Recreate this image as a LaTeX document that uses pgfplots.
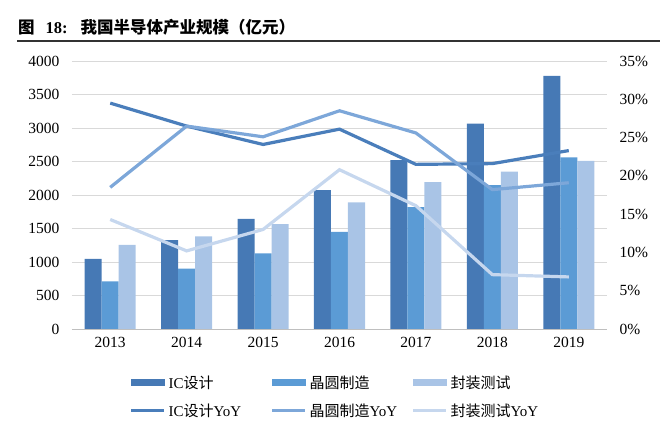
\documentclass[border=0pt]{standalone}
\usepackage{pgfplots}
\pgfplotsset{compat=1.18}
\usepackage{fontspec}
\setmainfont{Liberation Serif}
\newfontfamily\cjk{Noto Sans CJK SC}
\definecolor{icbar}{HTML}{4679B5}
\definecolor{wfbar}{HTML}{5B9BD5}
\definecolor{pkbar}{HTML}{A9C4E6}
\definecolor{icline}{HTML}{4A7EBB}
\definecolor{wfline}{HTML}{7DA7D9}
\definecolor{pkline}{HTML}{C6D7EE}
\definecolor{gridc}{HTML}{D9D9D9}
\definecolor{axc}{HTML}{BFBFBF}
\begin{document}
\begin{tikzpicture}
\path[use as bounding box] (0,0) rectangle (665pt,428pt);
\node[anchor=west,inner sep=0pt] at (18pt,401pt) {\fontsize{16.5}{19}\selectfont\bfseries\cjk 图\hspace{11pt}{\rmfamily 18:}\hspace{13pt}我国半导体产业规模（亿元）};
\draw[line width=1.2pt,black!80] (17pt,387pt) -- (660pt,387pt);
\pgfplotsset{every axis/.append style={
  at={(72pt,99pt)}, anchor=south west, scale only axis,
  width=535pt, height=268pt, xmin=-0.5, xmax=6.5,
  /pgf/number format/assume math mode=true,
  tick label style={font=\fontsize{15.5}{18}\selectfont},
  major tick length=0pt}}
\begin{axis}[
  ymin=0, ymax=4000, ytick={0,500,...,4000},
  axis y line*=left, axis x line*=bottom,
  y axis line style={draw=none},
  x axis line style={axc, line width=0.8pt},
  ymajorgrids, grid style={gridc, line width=0.8pt},
  xtick={0,...,6}, xticklabels={2013,2014,2015,2016,2017,2018,2019},
  xticklabel style={yshift=-5pt},
  yticklabel style={xshift=-9pt},
  /pgf/number format/1000 sep={},
  ybar, bar width=17pt,
]
\addplot[fill=icbar, draw=none, bar shift=-17pt] coordinates {(0,1047.4) (1,1325) (2,1644.3) (3,2073.5) (4,2519.3) (5,3063.5) (6,3778.4)};
\addplot[fill=wfbar, draw=none, bar shift=0pt] coordinates {(0,712.1) (1,900.8) (2,1126.9) (3,1448.1) (4,1818.2) (5,2149.1) (6,2560.1)};
\addplot[fill=pkbar, draw=none, bar shift=17pt] coordinates {(0,1255.9) (1,1384) (2,1564.3) (3,1889.7) (4,2193.9) (5,2349.7) (6,2509.5)};
\end{axis}
\begin{axis}[
  ymin=0, ymax=35, ytick={0,5,...,35},
  axis y line*=right, axis x line=none,
  y axis line style={draw=none},
  yticklabel={\pgfmathprintnumber{\tick}\%},
  yticklabel style={xshift=9pt},
  legend columns=3,
  legend style={draw=none, fill=none, at={(0.503,-0.2525)}, anchor=center,
    font=\fontsize{15}{18}\selectfont, row sep=10pt,
    /tikz/every odd column/.append style={column sep=1pt}},
  legend cell align=left,
]
\addlegendimage{legend image code/.code={\fill[icbar] (0pt,-3pt) rectangle (33pt,3pt);}}
\addlegendentry{\makebox[100pt][l]{IC{\cjk 设计}}}
\addlegendimage{legend image code/.code={\fill[wfbar] (0pt,-3pt) rectangle (33pt,3pt);}}
\addlegendentry{\makebox[100pt][l]{\cjk 晶圆制造}}
\addlegendimage{legend image code/.code={\fill[pkbar] (0pt,-3pt) rectangle (33pt,3pt);}}
\addlegendentry{\makebox[100pt][l]{\cjk 封装测试}}
\addplot[icline, line width=3.2pt, no marks, legend image code/.code={\draw[icline,line width=3pt] (0pt,0pt) -- (33pt,0pt);}] coordinates {(0,29.5) (1,26.5) (2,24.1) (3,26.1) (4,21.5) (5,21.6) (6,23.3)};
\addlegendentry{\makebox[100pt][l]{IC{\cjk 设计}YoY}}
\addplot[wfline, line width=3.2pt, no marks, legend image code/.code={\draw[wfline,line width=3pt] (0pt,0pt) -- (33pt,0pt);}] coordinates {(0,18.5) (1,26.5) (2,25.1) (3,28.5) (4,25.6) (5,18.2) (6,19.1)};
\addlegendentry{\makebox[100pt][l]{{\cjk 晶圆制造}YoY}}
\addplot[pkline, line width=3.2pt, no marks, legend image code/.code={\draw[pkline,line width=3pt] (0pt,0pt) -- (33pt,0pt);}] coordinates {(0,14.3) (1,10.2) (2,13.0) (3,20.8) (4,16.1) (5,7.1) (6,6.8)};
\addlegendentry{\makebox[100pt][l]{{\cjk 封装测试}YoY}}
\end{axis}
\end{tikzpicture}
\end{document}
